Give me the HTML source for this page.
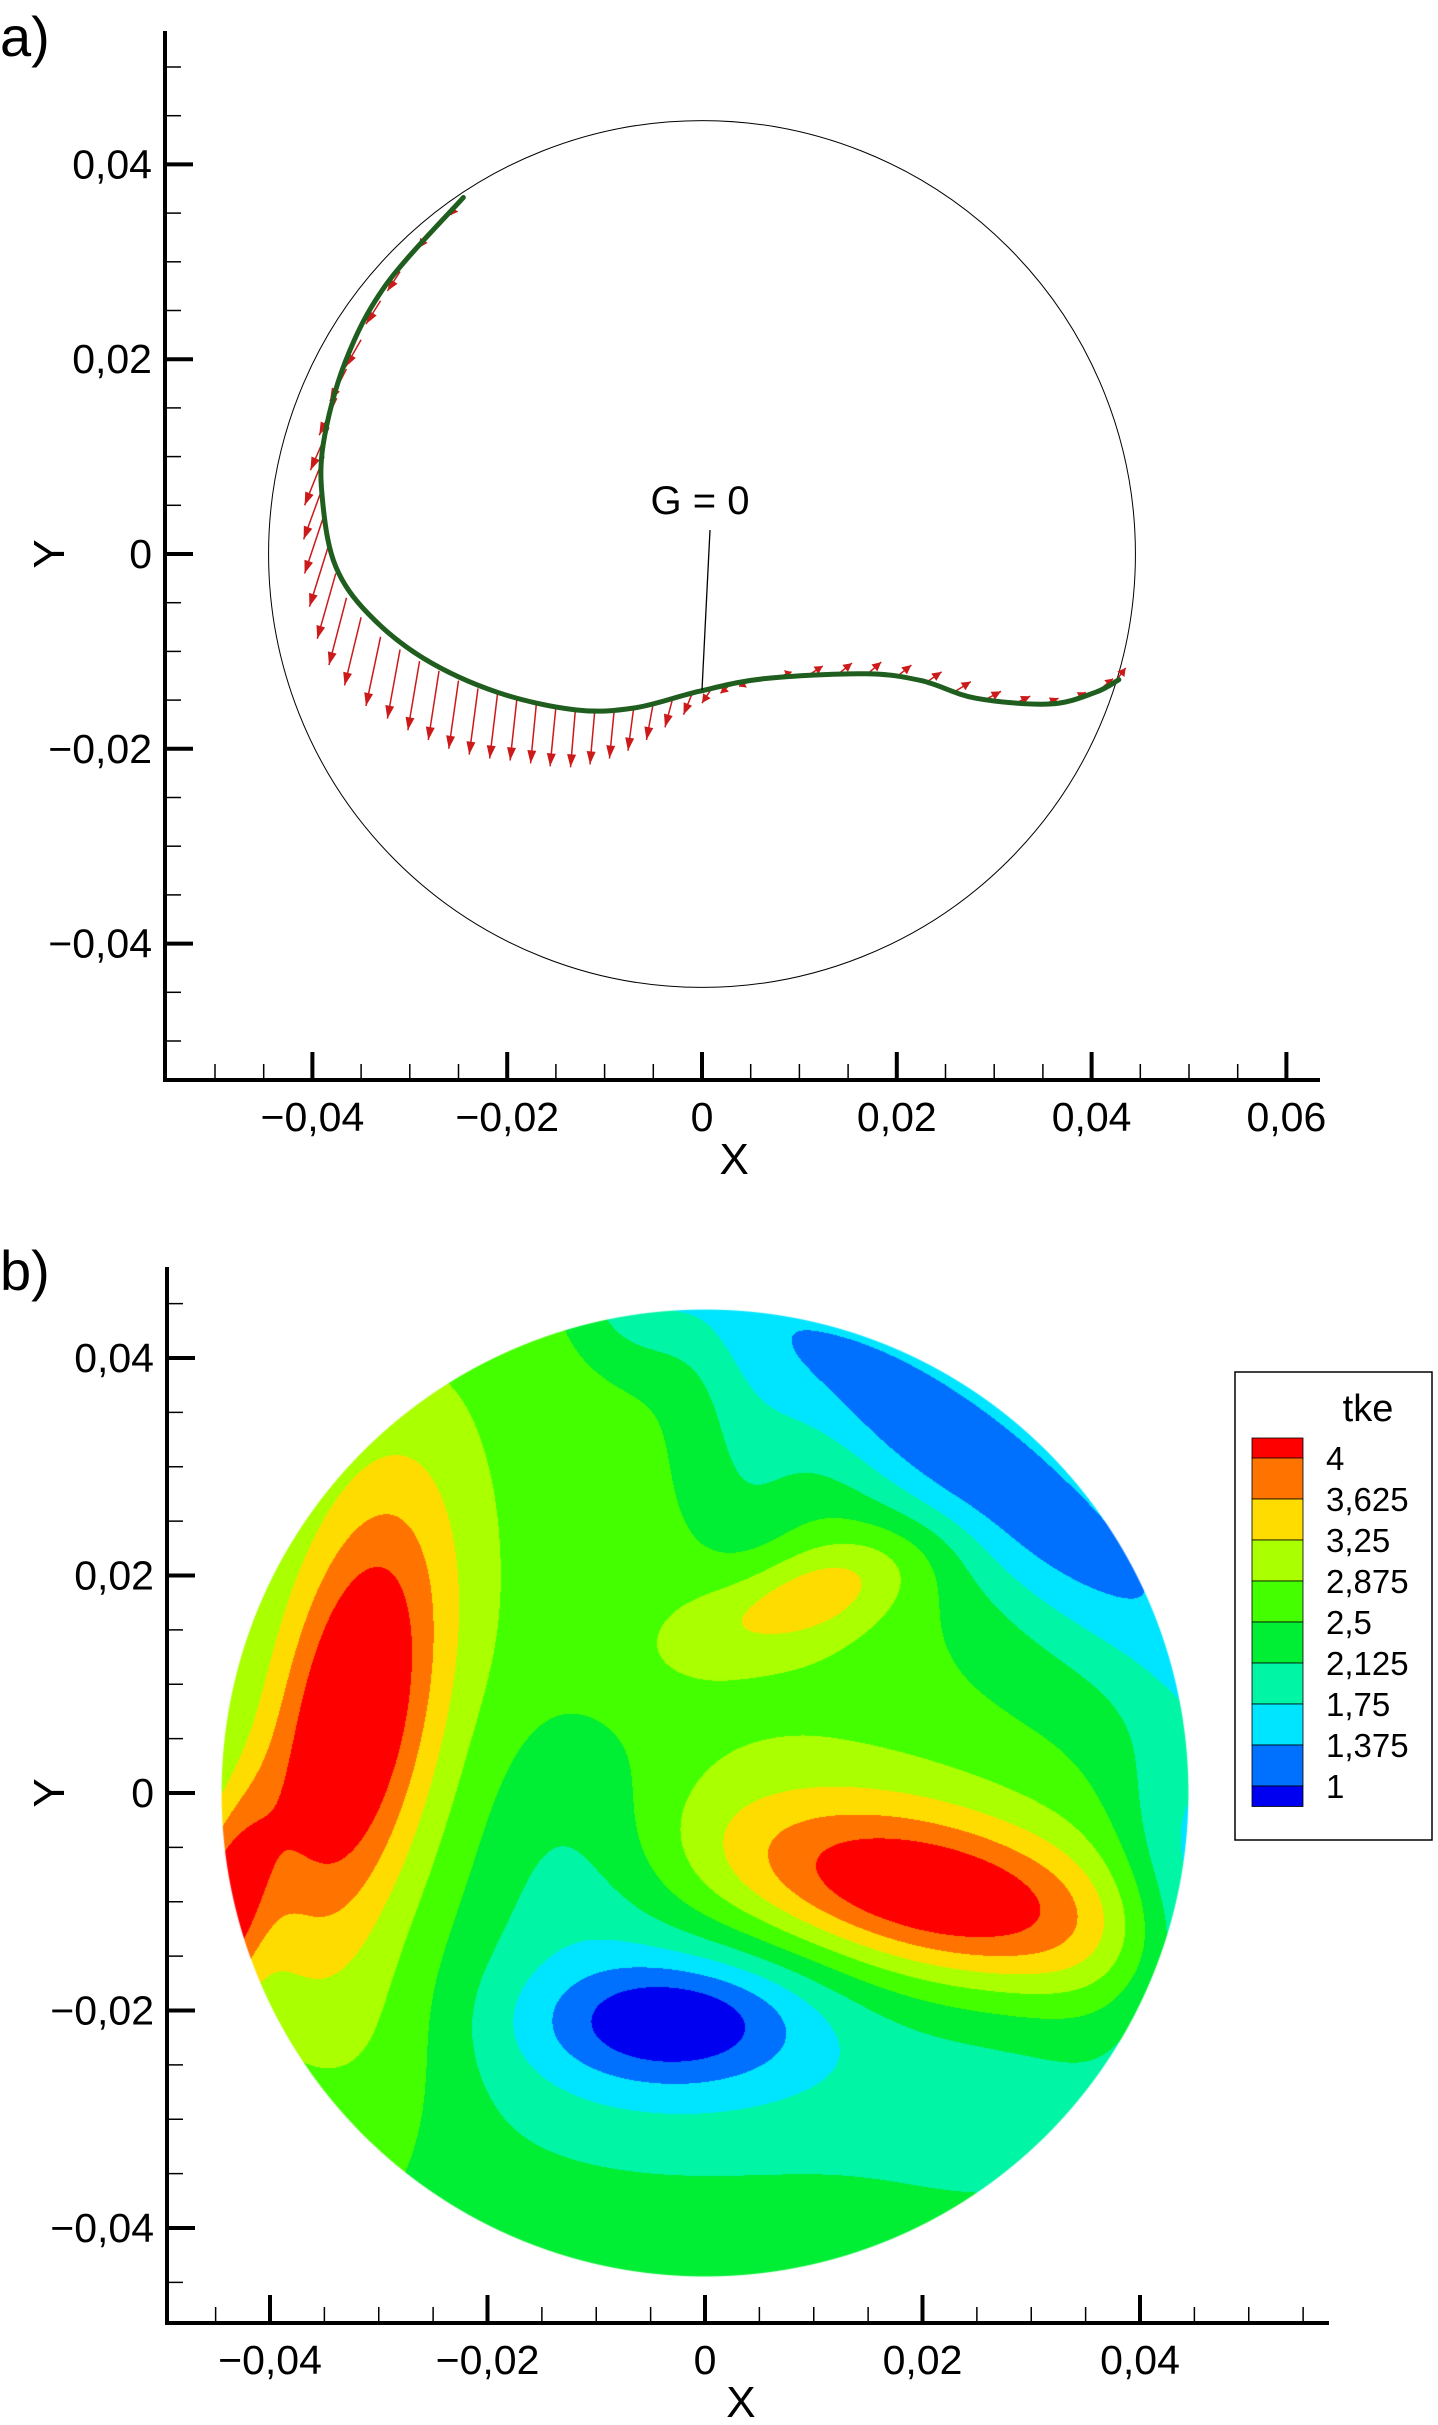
<!DOCTYPE html>
<html><head><meta charset="utf-8"><style>
html,body{margin:0;padding:0;background:#fff;}
#wrap{position:relative;width:1438px;height:2425px;overflow:hidden;}
#field{position:absolute;left:0;top:0;}
#svg{position:absolute;left:0;top:0;}
text{font-family:"Liberation Sans",Arial,sans-serif;fill:#000;}
</style></head><body>
<div id="wrap">
<canvas id="field" width="1438" height="2425"></canvas>
<svg id="svg" width="1438" height="2425" xmlns="http://www.w3.org/2000/svg">
<g id="pa"></g>
<g id="pb"></g>
</svg>
</div>
<script>
// ---------- Panel a data ----------
const curveX=[-0.0245,-0.0324,-0.0366,-0.0389,-0.0389,-0.0376,-0.0343,-0.0286,-0.021,-0.013,-0.0069,-0.0003,0.0064,0.0167,0.0225,0.0281,0.0357,0.0404,0.0428];
const curveY=[0.0366,0.0277,0.0198,0.0112,0.0049,-0.0013,-0.0061,-0.0107,-0.0142,-0.016,-0.0158,-0.0141,-0.0128,-0.0123,-0.013,-0.0148,-0.0154,-0.0142,-0.0129];
const arrowX=[-0.025,-0.028,-0.031,-0.033,-0.035,-0.0365,-0.0375,-0.0383,-0.0388,-0.0389,-0.0388,-0.0383,-0.0376,-0.0365,-0.035,-0.033,-0.031,-0.029,-0.027,-0.025,-0.023,-0.021,-0.019,-0.017,-0.015,-0.013,-0.011,-0.009,-0.007,-0.005,-0.003,-0.001,0.001,0.003,0.005,0.008,0.011,0.014,0.017,0.020,0.023,0.026,0.029,0.032,0.035,0.038,0.041,0.0425];
const arrowY=[0.036,0.033,0.029,0.026,0.022,0.019,0.016,0.013,0.010,0.007,0.004,0.001,-0.002,-0.0045,-0.0065,-0.0085,-0.0098,-0.011,-0.012,-0.013,-0.0138,-0.0144,-0.0148,-0.0153,-0.0157,-0.016,-0.016,-0.0159,-0.0157,-0.0153,-0.0148,-0.0143,-0.0138,-0.0133,-0.013,-0.0126,-0.0124,-0.0123,-0.0123,-0.0126,-0.0132,-0.0141,-0.015,-0.0154,-0.0155,-0.015,-0.0138,-0.013];
const arrowU=[-0.0008,-0.0011,-0.0013,-0.0015,-0.0016,-0.0017,-0.0018,-0.0019,-0.002,-0.002,-0.002,-0.002,-0.0019,-0.0018,-0.0017,-0.0015,-0.0013,-0.0012,-0.0011,-0.001,-0.0009,-0.0008,-0.0007,-0.0006,-0.0006,-0.0005,-0.0005,-0.0005,-0.0006,-0.0007,-0.0008,-0.0009,-0.001,-0.0011,-0.0012,0.0012,0.0014,0.0014,0.0014,0.0015,0.0016,0.0016,0.0017,0.0017,0.0016,0.0014,0.0012,0.001];
const arrowV=[-0.0012,-0.0016,-0.002,-0.0024,-0.0028,-0.0033,-0.0038,-0.0044,-0.005,-0.0055,-0.006,-0.0064,-0.0067,-0.0069,-0.007,-0.0071,-0.0071,-0.0071,-0.0071,-0.007,-0.0068,-0.0066,-0.0064,-0.0062,-0.0061,-0.0059,-0.0056,-0.0051,-0.0045,-0.0038,-0.003,-0.0022,-0.0015,-0.001,-0.0006,0.0005,0.0009,0.0011,0.0012,0.0012,0.0011,0.001,0.0009,0.0008,0.0007,0.0008,0.001,0.0013];
const aXTicks=[-0.04,-0.02,0,0.02,0.04,0.06];
const aXTickLabels=["\u22120,04","\u22120,02","0","0,02","0,04","0,06"];
const aYTicks=[0.04,0.02,0,-0.02,-0.04];
const aYTickLabels=["0,04","0,02","0","\u22120,02","\u22120,04"];
const aRadius=[0.0445];
// ---------- Panel b data ----------
const bXTicks=[-0.04,-0.02,0,0.02,0.04];
const bXTickLabels=["\u22120,04","\u22120,02","0","0,02","0,04"];
const bYTicks=[0.04,0.02,0,-0.02,-0.04];
const bYTickLabels=["0,04","0,02","0","\u22120,02","\u22120,04"];
const levels=[4,3.625,3.25,2.875,2.5,2.125,1.75,1.375,1];
const levelLabels=["4","3,625","3,25","2,875","2,5","2,125","1,75","1,375","1"];
const levelColors=["#ff0000","#ff7300","#ffdc00","#aaff00","#44ff00","#00ee33","#00f5a5","#00e5ff","#0070ff","#0000f0"];
const baseTke=[2.6];
const blobX=[-0.0325,-0.031,0.021,0.02,0.009,0.009,-0.003,-0.002,0.024,0.03,0.045,-0.012,0.03,-0.0448,-0.006,0.0,-0.03,0.004];
const blobY=[0.007,0.008,-0.0095,-0.008,0.018,0.017,-0.021,-0.021,0.031,0.024,-0.012,-0.004,-0.028,-0.012,0.045,-0.033,-0.024,0.03];
const blobSx=[0.005,0.008,0.014,0.017,0.008,0.013,0.008,0.016,0.026,0.028,0.005,0.007,0.011,0.0028,0.004,0.03,0.006,0.004];
const blobSy=[0.015,0.019,0.005,0.009,0.003,0.006,0.0038,0.008,0.0055,0.011,0.012,0.009,0.009,0.008,0.004,0.01,0.008,0.01];
const blobAngle=[-10,-12,-12,-15,20,20,0,0,-37,-55,0,0,0,-15,0,0,0,0];
const blobAmp=[1.5,0.55,1.5,0.55,0.75,0.25,-1.0,-0.85,-1.25,-0.35,-1.1,-0.55,-0.45,1.6,-0.5,-0.3,0.35,-0.4];

const NS="http://www.w3.org/2000/svg";
function mk(parent,tag,attrs){const e=document.createElementNS(NS,tag);for(const k in attrs)e.setAttribute(k,attrs[k]);parent.appendChild(e);return e;}

// ---------- Panel a ----------
const pa=document.getElementById('pa');
const A={x0:702,y0:554,s:9740,left:165,top:31,bottom:1080,right:1320};
const ax=v=>A.x0+v*A.s, ay=v=>A.y0-v*A.s;

let t=mk(pa,'text',{x:0,y:56,'font-size':56});t.textContent='a)';


let c=mk(pa,'ellipse',{cx:ax(0),cy:ay(0),rx:aRadius[0]*A.s,ry:aRadius[0]*A.s,fill:'none',stroke:'#000','stroke-width':1});


const ag=mk(pa,'g',{});

for(let i=0;i<arrowX.length;i++){
  const x1=ax(arrowX[i]),y1=ay(arrowY[i]),x2=ax(arrowX[i]+arrowU[i]),y2=ay(arrowY[i]+arrowV[i]);
  const l=mk(ag,'line',{x1:x1,y1:y1,x2:x2,y2:y2,stroke:'#cc1a1a','stroke-width':1.5});
  
  const dx=x2-x1,dy=y2-y1,L=Math.hypot(dx,dy)||1,ux=dx/L,uy=dy/L,h=Math.min(13,L*0.5),w=4.5;
  const bx=x2-ux*h,by=y2-uy*h;
  const p=mk(ag,'polygon',{points:`${x2},${y2} ${bx-uy*w},${by+ux*w} ${bx+uy*w},${by-ux*w}`,fill:'#cc1a1a'});
  
}
(function(){
  const P=curveX.map((x,i)=>[ax(x),ay(curveY[i])]);
  let d=`M${P[0][0]},${P[0][1]}`;
  for(let i=0;i<P.length-1;i++){
    const p0=P[Math.max(0,i-1)],p1=P[i],p2=P[i+1],p3=P[Math.min(P.length-1,i+2)];
    const c1=[p1[0]+(p2[0]-p0[0])/6,p1[1]+(p2[1]-p0[1])/6],c2=[p2[0]-(p3[0]-p1[0])/6,p2[1]-(p3[1]-p1[1])/6];
    d+=` C${c1[0]},${c1[1]} ${c2[0]},${c2[1]} ${p2[0]},${p2[1]}`;
  }
  const g=mk(pa,'path',{d:d,fill:'none',stroke:'#1f5e1f','stroke-width':5,'stroke-linecap':'round'});
  
})();
let ll=mk(pa,'line',{x1:710,y1:530,x2:702,y2:690,stroke:'#000','stroke-width':1.3});

t=mk(pa,'text',{x:700,y:514,'font-size':40,'text-anchor':'middle'});t.textContent='G = 0';


function axes(parent,P,fx,fy,xT,xL,yT,yL,xMinRange,yMinRange,name){
  const g=mk(parent,'g',{});
  
  let l=mk(g,'line',{x1:P.left,y1:P.top,x2:P.left,y2:P.bottom+2,stroke:'#000','stroke-width':4});
  
  l=mk(g,'line',{x1:P.left-2,y1:P.bottom,x2:P.right,y2:P.bottom,stroke:'#000','stroke-width':4});
  
  for(let k=Math.round(xMinRange[0]*1000);k<=Math.round(xMinRange[1]*1000);k+=5){
    const major=k%20===0, x=fx(k/1000);
    const m=mk(g,'line',{x1:x,y1:P.bottom,x2:x,y2:P.bottom-(major?28:16),stroke:'#000','stroke-width':major?4:1.5});
    
  }
  for(let k=Math.round(yMinRange[0]*1000);k<=Math.round(yMinRange[1]*1000);k+=5){
    const major=k%20===0, y=fy(k/1000);
    const m=mk(g,'line',{x1:P.left,y1:y,x2:P.left+(major?28:16),y2:y,stroke:'#000','stroke-width':major?4:1.5});
    
  }
  xT.forEach((v,i)=>{const tt=mk(g,'text',{x:fx(v),y:P.bottom+51,'font-size':41,'text-anchor':'middle'});tt.textContent=xL[i];
    });
  yT.forEach((v,i)=>{const tt=mk(g,'text',{x:P.left-13,y:fy(v)+14,'font-size':41,'text-anchor':'end'});tt.textContent=yL[i];
    });
  let tx=mk(g,'text',{x:fx(0.0033),y:P.bottom+94,'font-size':44,'text-anchor':'middle'});tx.textContent='X';
  
  const cy=fy(0);
  let ty=mk(g,'text',{x:0,y:0,'font-size':44,'text-anchor':'middle',transform:`translate(64,${cy}) rotate(-90)`});ty.textContent='Y';
  
}
axes(pa,A,ax,ay,aXTicks,aXTickLabels,aYTicks,aYTickLabels,[-0.05,0.06],[-0.05,0.05],'panel-a');

// ---------- Panel b ----------
const pb=document.getElementById('pb');
const B={x0:705,y0:1793,s:10875,left:167,top:1267,bottom:2323,right:1329};
const bx=v=>B.x0+v*B.s, by=v=>B.y0-v*B.s;
t=mk(pb,'text',{x:0,y:1290,'font-size':56});t.textContent='b)';


(function(){
  const cv=document.getElementById('field'),ctx=cv.getContext('2d');
  const R=aRadius[0]*B.s+1;
  const x0=Math.floor(bx(0)-R),x1=Math.ceil(bx(0)+R),y0=Math.floor(by(0)-R),y1=Math.ceil(by(0)+R);
  const W=x1-x0,H=y1-y0,img=ctx.createImageData(W,H);
  const cols=levelColors.map(h=>[parseInt(h.substr(1,2),16),parseInt(h.substr(3,2),16),parseInt(h.substr(5,2),16)]);
  const ca=blobAngle.map(a=>Math.cos(a*Math.PI/180)),sa=blobAngle.map(a=>Math.sin(a*Math.PI/180));
  for(let j=0;j<H;j++)for(let i=0;i<W;i++){
    const px=x0+i+0.5,py=y0+j+0.5,X=(px-B.x0)/B.s,Y=(B.y0-py)/B.s;
    const r=Math.hypot(X,Y)*B.s; if(r>R-1) continue;
    let v=baseTke[0];
    for(let k=0;k<blobX.length;k++){const dx=X-blobX[k],dy=Y-blobY[k];
      const u=(dx*ca[k]+dy*sa[k])/blobSx[k],w=(-dx*sa[k]+dy*ca[k])/blobSy[k];
      v+=blobAmp[k]*Math.exp(-0.5*(u*u+w*w));}
    let idx=levels.length;for(let k=0;k<levels.length;k++){if(v>=levels[k]){idx=k;break;}}
    const cc=cols[idx],o=(j*W+i)*4;
    const a=Math.max(0,Math.min(1,R-1-r));
    img.data[o]=cc[0];img.data[o+1]=cc[1];img.data[o+2]=cc[2];img.data[o+3]=Math.round(255*a);
  }
  ctx.putImageData(img,x0,y0);
})();
axes(pb,B,bx,by,bXTicks,bXTickLabels,bYTicks,bYTickLabels,[-0.045,0.055],[-0.045,0.045],'panel-b');

(function(){
  const g=mk(pb,'g',{});
  
  mk(g,'rect',{x:1235,y:1372,width:197,height:468,fill:'#fff',stroke:'#000','stroke-width':1.5});
  const tt=mk(g,'text',{x:1368,y:1421,'font-size':38,'text-anchor':'middle'});tt.textContent='tke';
  
  const top=1438,rh=41;
  for(let k=0;k<levelColors.length;k++){
    const y=k===0?top:top+20+(k-1)*rh, h=(k===0||k===levelColors.length-1)?20.5:rh;
    const r=mk(g,'rect',{x:1252,y:y,width:51,height:h,fill:levelColors[k],stroke:'#000','stroke-width':0.8});
    
  }
  levelLabels.forEach((s,k)=>{const l=mk(g,'text',{x:1326,y:top+20+k*rh+12,'font-size':33});l.textContent=s;
    });
})();
</script>
</body></html>
